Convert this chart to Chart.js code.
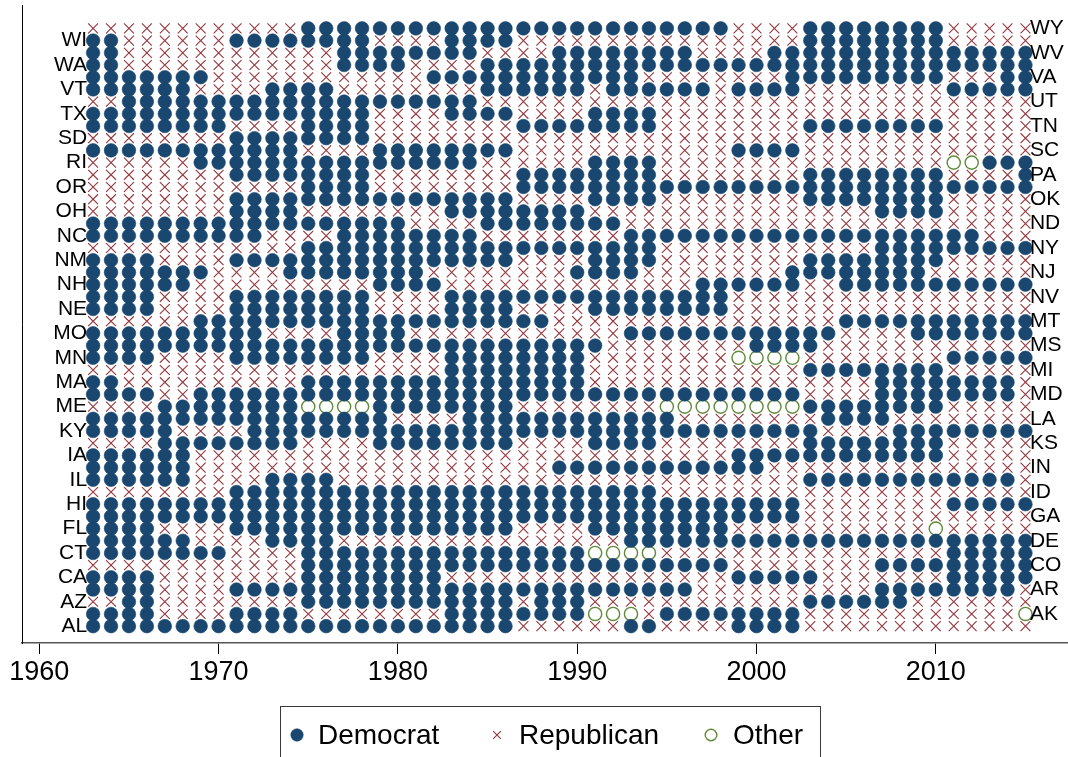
<!DOCTYPE html>
<html>
<head>
<meta charset="utf-8">
<title>Governor party by state, 1963-2015</title>
<script src="https://cdn.jsdelivr.net/npm/chart.js@4.4.1/dist/chart.umd.min.js"></script>
<style>
  html, body { margin: 0; padding: 0; background: #ffffff; }
  canvas { display: block; }
</style>
</head>
<body>
<canvas id="chart" width="1068" height="757"></canvas>
<script>
// Years on the horizontal axis (one column per year)
const years = [1963, 1964, 1965, 1966, 1967, 1968, 1969,
  1970, 1971, 1972, 1973, 1974, 1975, 1976, 1977, 1978, 1979,
  1980, 1981, 1982, 1983, 1984, 1985, 1986, 1987, 1988, 1989,
  1990, 1991, 1992, 1993, 1994, 1995, 1996, 1997, 1998, 1999,
  2000, 2001, 2002, 2003, 2004, 2005, 2006, 2007, 2008, 2009,
  2010, 2011, 2012, 2013, 2014, 2015];

const tickYears = [1960, 1970, 1980, 1990, 2000, 2010];

// States, bottom row first (alphabetical by name)
const states = ['AL', 'AK', 'AZ', 'AR', 'CA', 'CO', 'CT', 'DE', 'FL', 'GA',
  'HI', 'ID', 'IL', 'IN', 'IA', 'KS', 'KY', 'LA', 'ME', 'MD',
  'MA', 'MI', 'MN', 'MS', 'MO', 'MT', 'NE', 'NV', 'NH', 'NJ',
  'NM', 'NY', 'NC', 'ND', 'OH', 'OK', 'OR', 'PA', 'RI', 'SC',
  'SD', 'TN', 'TX', 'UT', 'VT', 'VA', 'WA', 'WV', 'WI', 'WY'];

// Governor's party per year, same order as `states`.
// Groups: 1963-69 | 1970s | 1980s | 1990s | 2000s | 2010-15
// D = Democrat, R = Republican, O = Other
const party = [
  'DDDDDDD DDDDDDDDDD DDDDDDDRRR RRRDDRRRRD DDDRRRRRRR RRRRRR', // AL
  'DDDDRRR RDDDDRRRRR RRRDDDDDDD DOOORDDDDD DDDRRRRRRR RRRRRO', // AK
  'RRDDRRR RRRRRDDDDD DDDDDDDRDD DRRRRRRRRR RRRDDDDDDR RRRRRR', // AZ
  'DDDDRRR RDDDDDDDDD DDDDDDDDDD DDDDDDDRRR RRRRRRRDDD DDDDDR', // AR
  'DDDDRRR RRRRRDDDDD DDDRRRRRRR RRRRRRRRRD DDDDRRRRRR RDDDDD', // CA
  'RRRRRRR RRRRRDDDDD DDDDDDDDDD DDDDDDDDDR RRRRRRRDDD DDDDDD', // CO
  'DDDDDDD DRRRRDDDDD DDDDDDDDDD DOOOORRRRR RRRRRRRRRR RDDDDD', // CT
  'DDDDDDR RRRDDDDRRR RRRRRRRRRR RRRDDDDDDD DDDDDDDDDD DDDDDD', // DE
  'DDDDRRR RDDDDDDDDD DDDDDDDRRR RDDDDDDDDR RRRRRRRRRR ORRRRR', // FL
  'DDDDDDD DDDDDDDDDD DDDDDDDDDD DDDDDDDDDD DDDRRRRRRR RRRRRR', // GA
  'DDDDDDD DDDDDDDDDD DDDDDDDDDD DDDDDDDDDD DDDRRRRRRR RDDDDD', // HI
  'RRRRRRR RDDDDDDDDD DDDDDDDDDD DDDDDRRRRR RRRRRRRRRR RRRRRR', // ID
  'DDDDDDR RRRDDDDRRR RRRRRRRRRR RRRRRRRRRR RRRDDDDDDD DDDDDR', // IL
  'DDDDDDR RRRRRRRRRR RRRRRRRRRD DDDDDDDDDD DRRRRRRRRR RRRRRR', // IN
  'DDDDDDR RRRRRRRRRR RRRRRRRRRR RRRRRRRRRD DDDDDDDDDD DRRRRR', // IA
  'RRRRDDD DDDDDRRRRD DDDDDDDRRR RDDDDRRRRR RRRDDDDDDD DRRRRR', // KS
  'DDDDDRR RRDDDDDDDD DDDDDDDDDD DDDDDDDDDD DDDDRRRRDD DDDDDD', // KY
  'DDDDDDD DDDDDDDDDD RRRRDDDDDD DDDDDDRRRR RRRRDDDDRR RRRRRR', // LA
  'RRRRDDD DDDDDOOOOD DDDDDDDRRR RRRRROOOOO OOODDDDDDD DRRRRR', // ME
  'DDDDRRD DDDDDDDDDD DDDDDDDDDD DDDDDDDDDD DDDRRRRDDD DDDDDR', // MD
  'DDRRRRR RRRRRDDDDD DDDDDDDDDD DRRRRRRRRR RRRRRRRDDD DDDDDR', // MA
  'RRRRRRR RRRRRRRRRR RRRDDDDDDD DRRRRRRRRR RRRDDDDDDD DRRRRR', // MI
  'DDDDRRR RDDDDDDDDR RRRDDDDDDD DRRRRRRRRO OOORRRRRRR RDDDDD', // MN
  'DDDDDDD DDDDDDDDDD DDDDDDDDDD DDRRRRRRRR DDDDRRRRRR RRRRRR', // MS
  'DDDDDDD DDDRRRRDDD DRRRRRRRRR RRRDDDDDDD DDDDDRRRRD DDDDDD', // MO
  'RRRRRRD DDDDDDDDDD DDDDDDDDDR RRRRRRRRRR RRRRRDDDDD DDDDDD', // MT
  'DDDDRRR RDDDDDDDDR RRRDDDDRRR RDDDDDDDDR RRRRRRRRRR RRRRRR', // NE
  'DDDDRRR RDDDDDDDDR RRRDDDDDDD DDDDDDDDDR RRRRRRRRRR RRRRRR', // NV
  'DDDDDDR RRRRRRRRRD DDDRRRRRRR RRRRRRRDDD DDDRRDDDDD DDDDDD', // NH
  'DDDDDDD RRRRDDDDDD DDRRRRRRRR DDDDRRRRRR RRDDDDDDDD RRRRRR', // NJ
  'DDDDRRR RDDDDDDDDD DDDDDDDRRR RDDDDRRRRR RRRDDDDDDD DRRRRR', // NM
  'RRRRRRR RRRRRDDDDD DDDDDDDDDD DDDDDRRRRR RRRRRRRDDD DDDDDD', // NY
  'DDDDDDD DDDRRRRDDD DDDDDRRRRR RRRDDDDDDD DDDDDDDDDD DDDRRR', // NC
  'DDDDDDD DDDDDDDDDD DRRRRDDDDD DDDRRRRRRR RRRRRRRRRR RRRRRR', // ND
  'RRRRRRR RDDDDRRRRR RRRDDDDDDD DRRRRRRRRR RRRRRRRDDD DRRRRR', // OH
  'RRRRRRR RDDDDDDDDD DDDDDDDRRR RDDDDRRRRR RRRDDDDDDD DRRRRR', // OK
  'RRRRRRR RRRRRDDDDR RRRRRRRDDD DDDDDDDDDD DDDDDDDDDD DDDDDD', // OR
  'RRRRRRR RDDDDDDDDR RRRRRRRDDD DDDDDRRRRR RRRDDDDDDD DRRRRD', // PA
  'RRRRRRD DDDDDDDDDD DDDDDRRRRR RDDDDRRRRR RRRRRRRRRR ROODDD', // RI
  'DDDDDDD DDDDDRRRRD DDDDDDDRRR RRRRRRRRRD DDDRRRRRRR RRRRRR', // SC
  'RRRRRRR RDDDDDDDDR RRRRRRRRRR RRRRRRRRRR RRRRRRRRRR RRRRRR', // SD
  'DDDDDDD DRRRRDDDDR RRRRRRRDDD DDDDDRRRRR RRRDDDDDDD DRRRRR', // TN
  'DDDDDDD DDDDDDDDDR RRRDDDDRRR RDDDDRRRRR RRRRRRRRRR RRRRRR', // TX
  'RRDDDDD DDDDDDDDDD DDDDDRRRRR RRRRRRRRRR RRRRRRRRRR RRRRRR', // UT
  'DDDDDDR RRRDDDDRRR RRRRRDDDDD DRDDDDDDRD DDDRRRRRRR RDDDDD', // VT
  'DDDDDDD RRRRRRRRRR RRDDDDDDDD DDDDRRRRRR RRDDDDDDDD DRRRDD', // VA
  'DDRRRRR RRRRRRRDDD DRRRRDDDDD DDDDDDDDDD DDDDDDDDDD DDDDDD', // WA
  'DDRRRRR RRRRRRRDDD DDDDDRRRRD DDDDDDDRRR RDDDDDDDDD DDDDDD', // WV
  'DDRRRRR RDDDDDDDDR RRRDDDDRRR RRRRRRRRRR RRRDDDDDDD DRRRRR', // WI
  'RRRRRRR RRRRRDDDDD DDDDDDDDDD DDDDDDDDDR RRRDDDDDDD DRRRRR'  // WY
];

const partyCodes = ['D', 'R', 'O'];
const partyLabels = ['Democrat', 'Republican', 'Other'];

// Marker look for each party
const markerStyles = {
  D: { pointStyle: 'circle', radius: 6.8, backgroundColor: '#1a476f', borderColor: '#1a476f', borderWidth: 0.6 },
  R: { pointStyle: 'crossRot', radius: 7, backgroundColor: '#94363c', borderColor: '#94363c', borderWidth: 1.1 },
  O: { pointStyle: 'circle', radius: 6.6, backgroundColor: 'rgba(255,255,255,0)', borderColor: '#5f8a3a', borderWidth: 1.4 }
};

// One scatter dataset per party, points = (year, state row)
const datasets = partyCodes.map((code, k) => {
  const pts = [];
  party.forEach((row, i) => {
    const seq = row.replace(/\s+/g, '');
    seq.split('').forEach((c, j) => {
      if (c === code) pts.push({ x: years[j], y: i });
    });
  });
  const st = markerStyles[code];
  return {
    label: partyLabels[k],
    data: pts,
    pointStyle: st.pointStyle,
    pointRadius: st.radius,
    pointBackgroundColor: st.backgroundColor,
    pointBorderColor: st.borderColor,
    pointBorderWidth: st.borderWidth,
    showLine: false,
    clip: false
  };
});

const FONT = '"Liberation Sans", Arial, Helvetica, sans-serif';

// State abbreviations: even rows on the left, odd rows on the right
const stateLabels = {
  id: 'stateLabels',
  afterDatasetsDraw(chart) {
    const { ctx, scales: { x, y } } = chart;
    const xl = x.getPixelForValue(years[0]);
    const xr = x.getPixelForValue(years[years.length - 1]);
    ctx.save();
    ctx.font = '21px ' + FONT;
    ctx.fillStyle = '#000000';
    ctx.textBaseline = 'middle';
    states.forEach((s, i) => {
      const py = y.getPixelForValue(i);
      if (i % 2 === 0) {
        ctx.textAlign = 'right';
        ctx.fillText(s, xl - 6, py);
      } else {
        ctx.textAlign = 'left';
        ctx.fillText(s, xr + 4.5, py);
      }
    });
    ctx.restore();
  }
};

// Boxed legend under the axis
const boxLegend = {
  id: 'boxLegend',
  afterDraw(chart) {
    const ctx = chart.ctx;
    ctx.save();
    ctx.strokeStyle = '#3a3a3a';
    ctx.lineWidth = 1;
    ctx.strokeRect(280.5, 706.5, 540, 70);
    const cy = 735;
    const items = [
      { code: 'D', mx: 297, tx: 318, r: 6.2 },
      { code: 'R', mx: 497, tx: 519, r: 5.5 },
      { code: 'O', mx: 711, tx: 733, r: 5.8 }
    ];
    items.forEach((it, k) => {
      const st = markerStyles[it.code];
      ctx.fillStyle = st.backgroundColor;
      ctx.strokeStyle = st.borderColor;
      ctx.lineWidth = st.borderWidth;
      Chart.helpers.drawPoint(ctx, {
        pointStyle: st.pointStyle, radius: it.r, rotation: 0, borderWidth: st.borderWidth
      }, it.mx, cy);
      ctx.fillStyle = '#000000';
      ctx.font = '28px ' + FONT;
      ctx.textAlign = 'left';
      ctx.textBaseline = 'middle';
      ctx.fillText(partyLabels[k], it.tx, cy + 1);
    });
    ctx.restore();
  }
};

new Chart(document.getElementById('chart'), {
  type: 'scatter',
  data: { datasets },
  options: {
    responsive: false,
    animation: false,
    devicePixelRatio: 1,
    events: [],
    layout: { autoPadding: false, padding: { left: 22, right: 0, top: 5, bottom: 0 } },
    plugins: { legend: { display: false }, tooltip: { enabled: false } },
    scales: {
      x: {
        type: 'linear',
        min: 1959.035,
        max: 2017.373,
        afterFit(scale) { scale.height = 114; },
        afterBuildTicks(scale) { scale.ticks = tickYears.map(v => ({ value: v })); },
        grid: { display: true, drawOnChartArea: false, drawTicks: true, tickLength: 11, color: '#000000', lineWidth: 1 },
        border: { display: true, color: '#555555', width: 1.5 },
        ticks: {
          color: '#000000',
          font: { family: FONT, size: 27 },
          padding: 2,
          maxRotation: 0,
          autoSkip: false,
          callback: v => String(v)
        }
      },
      y: {
        type: 'linear',
        min: -1.38,
        max: 50.92,
        afterFit(scale) { scale.width = 0; },
        grid: { display: false },
        border: { display: true, color: '#000000', width: 1 },
        ticks: { display: false }
      }
    }
  },
  plugins: [stateLabels, boxLegend]
});
</script>
</body>
</html>
